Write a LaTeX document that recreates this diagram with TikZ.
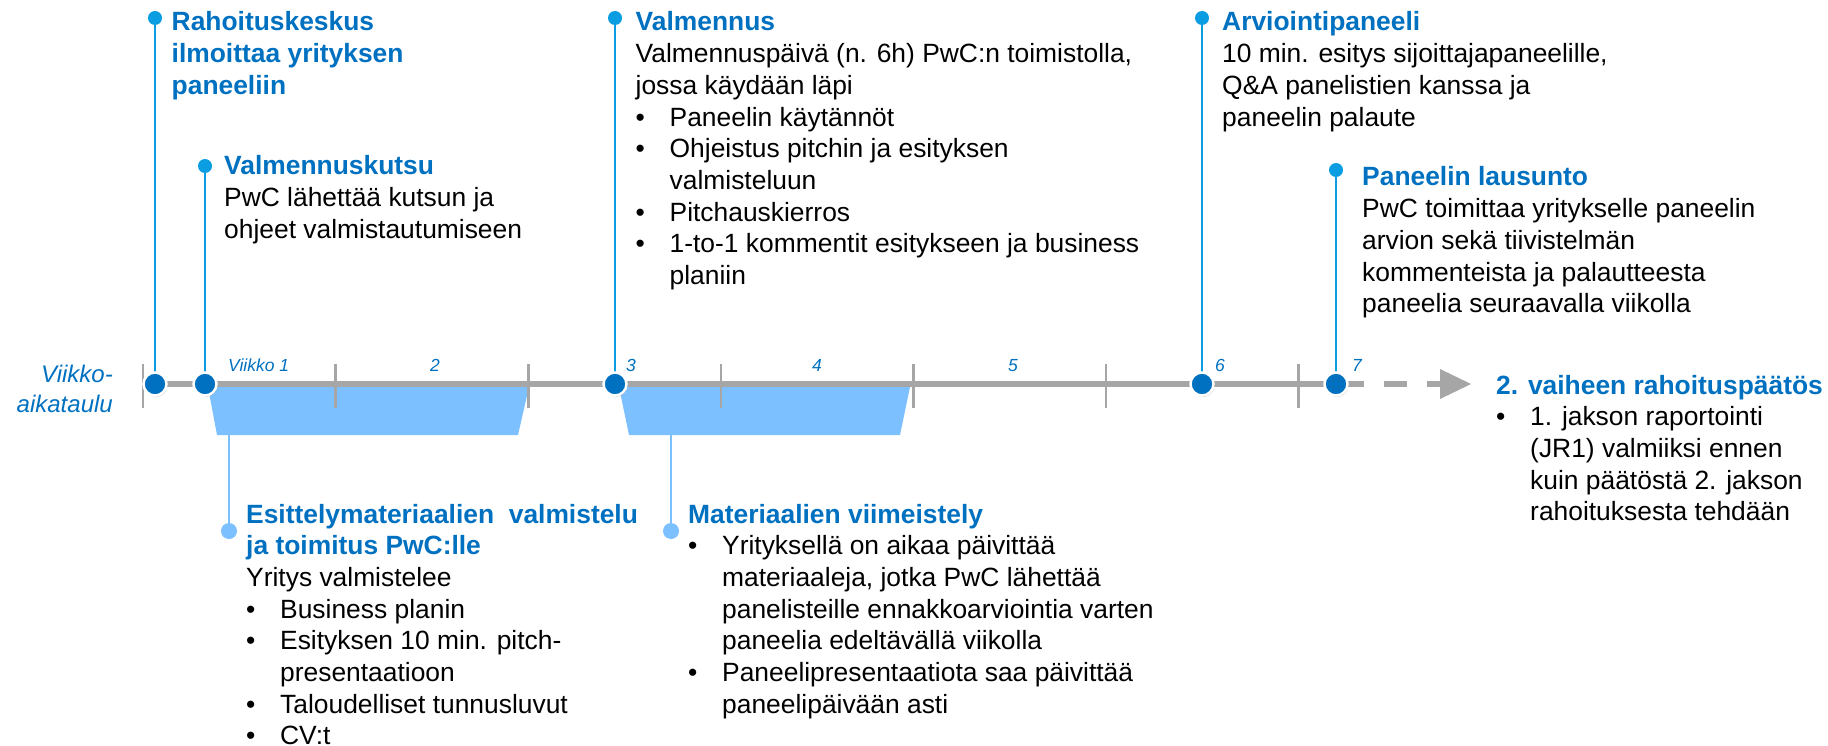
\documentclass[tikz,border=0pt]{standalone}
\usepackage{fontspec}
\setmainfont{Liberation Sans}
\usetikzlibrary{shadows}
\definecolor{headblue}{HTML}{0070C0}
\definecolor{pinblue}{HTML}{0A9DE2}
\definecolor{lightblue}{HTML}{7DC0FF}
\definecolor{tlgray}{HTML}{A6A6A6}
\newcommand{\bodyfont}{\fontsize{26.4}{31.7}\selectfont}
\newcommand{\hd}[1]{\textcolor{headblue}{\bfseries #1}}
\newcommand{\bul}{\makebox[34pt][l]{\textbullet}}
\newcommand{\ind}{\hspace*{34pt}}
\begin{document}
\begin{tikzpicture}[x=1pt,y=-1pt,
  txt/.style={anchor=base west, inner sep=0pt, font=\bodyfont},
  wk/.style={anchor=base, inner sep=0pt, text=headblue, font=\fontsize{17.5}{20}\selectfont\itshape},
  tdot/.style={circle, fill=headblue, draw=white, line width=2.5pt, minimum size=23pt, inner sep=0pt,
     drop shadow={opacity=0.35, shadow xshift=1pt, shadow yshift=-1.5pt}},
  pindot/.style={circle, fill=pinblue, minimum size=14pt, inner sep=0pt},
  lpindot/.style={circle, fill=lightblue, minimum size=16pt, inner sep=0pt},
  pinline/.style={draw=pinblue, line width=2.6pt},
  lpinline/.style={draw=lightblue, line width=2.6pt},
  tick/.style={draw=tlgray, line width=2.6pt},
  trap/.style={fill=lightblue},
]
\useasboundingbox (0,0) rectangle (1828,746);

% coordinates on the timeline
\coordinate (tlstart) at (143,384);
\coordinate (tlend) at (1364,384);
\coordinate (dashstart) at (1384,384);
\coordinate (dashend) at (1440,384);
\coordinate (c1) at (155,384);
\coordinate (c2) at (205,384);
\coordinate (c3) at (615,384);
\coordinate (c4) at (1202,384);
\coordinate (c5) at (1336,384);

% trapezoids
\fill[trap] (208,387) -- (529,387) -- (518,435) -- (217,435) -- cycle;
\fill[trap] (619,387) -- (910,387) -- (900,435) -- (629,435) -- cycle;
\coordinate (t1b) at (229,433);
\coordinate (t2b) at (671,433);

% ticks
\foreach \i/\x in {1/143,2/335.6,3/528.2,4/720.8,5/913.4,6/1106,7/1298.6}{
  \coordinate (tk\i a) at (\x,364);
  \coordinate (tk\i b) at (\x,408);
  \draw[tick] (tk\i a) -- (tk\i b);
}

% main line, dashes, arrow head
\draw[draw=tlgray, line width=6pt] (tlstart) -- (tlend);
\draw[draw=tlgray, line width=6pt, dash pattern=on 23pt off 20pt] (dashstart) -- (dashend);
\fill[tlgray] (dashend) ++(0,-15) -- ++(31,15) -- ++(-31,15) -- cycle;

% top pins
\node[pindot] (p1) at (155,18) {};
\node[pindot] (p2) at (205,166) {};
\node[pindot] (p3) at (615,18) {};
\node[pindot] (p4) at (1202,18) {};
\node[pindot] (p5) at (1336,170) {};
\draw[pinline] (p1.center) -- (c1);
\draw[pinline] (p2.center) -- (c2);
\draw[pinline] (p3.center) -- (c3);
\draw[pinline] (p4.center) -- (c4);
\draw[pinline] (p5.center) -- (c5);

% lower pins
\node[lpindot] (q1) at (229,531) {};
\node[lpindot] (q2) at (671,531) {};
\draw[lpinline] (t1b) -- (q1.center);
\draw[lpinline] (t2b) -- (q2.center);

% timeline dots
\node[tdot] (d1) at (c1) {};
\node[tdot] (d2) at (c2) {};
\node[tdot] (d3) at (c3) {};
\node[tdot] (d4) at (c4) {};
\node[tdot] (d5) at (c5) {};

% week labels
\node[wk, anchor=base west] (w1) at (228,371) {Viikko 1};
\node[wk] (w2) at (435,371) {2};
\node[wk] (w3) at (631,371) {3};
\node[wk] (w4) at (817,371) {4};
\node[wk] (w5) at (1013,371) {5};
\node[wk] (w6) at (1220,371) {6};
\node[wk] (w7) at (1357,371) {7};

% left label
\node[anchor=base east, inner sep=0pt, text=headblue, font=\fontsize{24}{30}\selectfont\itshape] (vk) at (113,382)
  {\begin{tabular}[t]{@{}r@{}}Viikko-\\aikataulu\end{tabular}};

% text blocks
\node[txt] (A) at (171.5,31) {\begin{tabular}[t]{@{}l@{}}
\hd{Rahoituskeskus}\\ \hd{ilmoittaa yrityksen}\\ \hd{paneeliin}\end{tabular}};

\node[txt] (B) at (224,175) {\begin{tabular}[t]{@{}l@{}}
\hd{Valmennuskutsu}\\ PwC lähettää kutsun ja\\ ohjeet valmistautumiseen\end{tabular}};

\node[txt] (C) at (635.5,31) {\begin{tabular}[t]{@{}l@{}}
\hd{Valmennus}\\
Valmennuspäivä (n. 6h) PwC:n toimistolla,\\
jossa käydään läpi\\
\bul Paneelin käytännöt\\
\bul Ohjeistus pitchin ja esityksen\\
\ind valmisteluun\\
\bul Pitchauskierros\\
\bul 1-to-1 kommentit esitykseen ja business\\
\ind planiin\end{tabular}};

\node[txt] (D) at (1222,31) {\begin{tabular}[t]{@{}l@{}}
\hd{Arviointipaneeli}\\
10 min. esitys sijoittajapaneelille,\\
Q\&A panelistien kanssa ja\\
paneelin palaute\end{tabular}};

\node[txt] (E) at (1362,186) {\begin{tabular}[t]{@{}l@{}}
\hd{Paneelin lausunto}\\
PwC toimittaa yritykselle paneelin\\
arvion sekä tiivistelmän\\
kommenteista ja palautteesta\\
paneelia seuraavalla viikolla\end{tabular}};

\node[txt] (F) at (246,523) {\begin{tabular}[t]{@{}l@{}}
\hd{Esittelymateriaalien\ \ valmistelu}\\
\hd{ja toimitus PwC:lle}\\
Yritys valmistelee\\
\bul Business planin\\
\bul Esityksen 10 min. pitch-\\
\ind presentaatioon\\
\bul Taloudelliset tunnusluvut\\
\bul CV:t\end{tabular}};

\node[txt] (G) at (688,523) {\begin{tabular}[t]{@{}l@{}}
\hd{Materiaalien viimeistely}\\
\bul Yrityksellä on aikaa päivittää\\
\ind materiaaleja, jotka PwC lähettää\\
\ind panelisteille ennakkoarviointia varten\\
\ind paneelia edeltävällä viikolla\\
\bul Paneelipresentaatiota saa päivittää\\
\ind paneelipäivään asti\end{tabular}};

\node[txt] (H) at (1496,394) {\begin{tabular}[t]{@{}l@{}}
\hd{2. vaiheen rahoituspäätös}\\
\bul 1. jakson raportointi\\
\ind (JR1) valmiiksi ennen\\
\ind kuin päätöstä 2. jakson\\
\ind rahoituksesta tehdään\end{tabular}};
\end{tikzpicture}
\end{document}
